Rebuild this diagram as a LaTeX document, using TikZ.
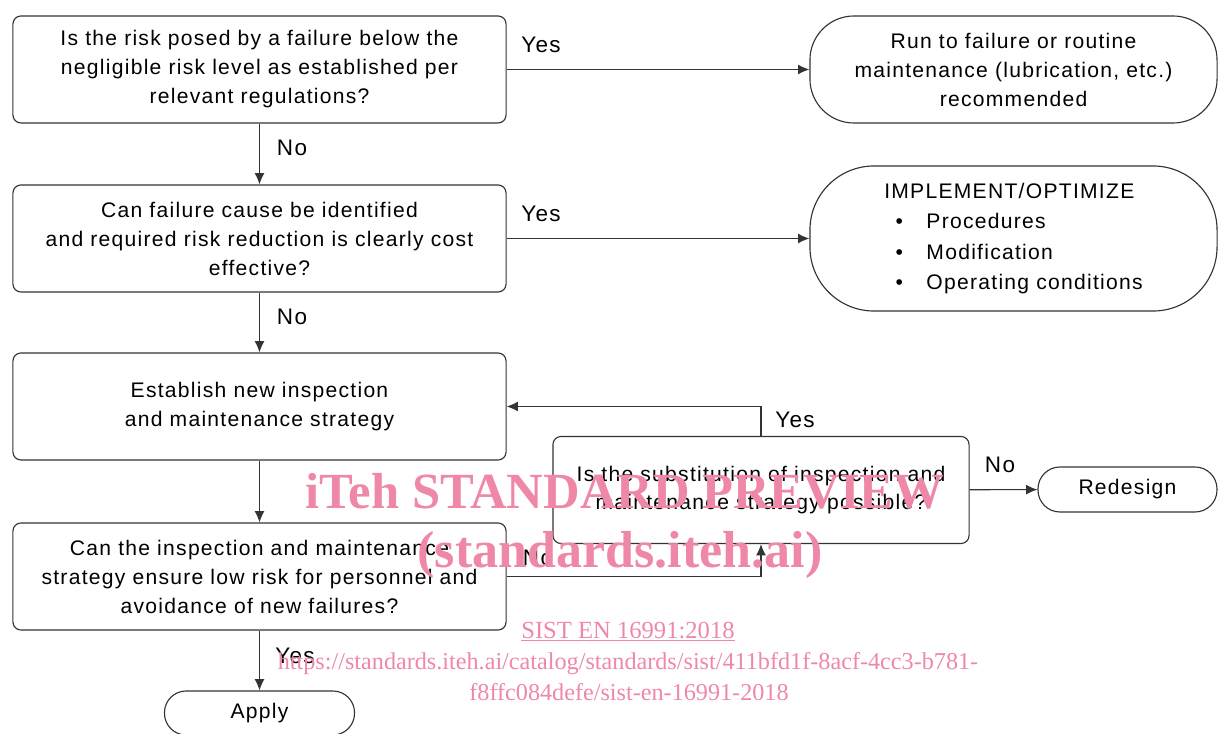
\documentclass[tikz,border=0pt]{standalone}
\usepackage{fontspec}
\setmainfont{Liberation Sans}[LetterSpace=6]
\newfontfamily\wmfont{Liberation Serif}
\usetikzlibrary{arrows.meta}
\definecolor{wmpink}{RGB}{238,136,166}
\newcommand{\lalign}{259.5}
\newcommand{\ralign}{1013.5}

\begin{document}
\begin{tikzpicture}[x=0.025cm,y=-0.025cm,
box/.style={draw=black!80, line width=0.8pt, rounded corners=0.2cm,
            minimum width=12.325cm, minimum height=2.675cm, align=center,
            inner sep=0pt, font=\fontsize{15}{20.6}\selectfont},
term/.style={draw=black!80, line width=0.8pt, align=center,
             inner sep=0pt, font=\fontsize{15}{20.6}\selectfont},
flow/.style={draw=black!80, line width=0.8pt, -{Latex[length=8pt,width=7pt]}},
lbl/.style={inner sep=0pt, font=\fontsize{16}{18}\selectfont},
wm/.style={text=wmpink, inner sep=0pt, anchor=base},
]
\useasboundingbox (0,0) rectangle (1218,734);

% left column
\node[box] (q1) at (\lalign,69.5) {Is the risk posed by a failure below the\\negligible risk level as established per\\relevant regulations?};
\node[box] (q2) at (\lalign,238.5) {Can failure cause be identified\\and required risk reduction is clearly cost\\effective?};
\node[box] (est) at (\lalign,406.5) {Establish new inspection\\and maintenance strategy};
\node[box] (q4) at (\lalign,576.5) {Can the inspection and maintenance\\strategy ensure low risk for personnel and\\avoidance of new failures?};
\node[term, minimum width=4.75cm, minimum height=1.1cm, rounded corners=0.54cm] (apply) at (\lalign,713) {Apply};

% right column
\node[term, minimum width=10.175cm, minimum height=2.675cm, rounded corners=1.1cm] (run) at (\ralign,69.5) {Run to failure or routine\\maintenance (lubrication, etc.)\\recommended};
\node[term, minimum width=10.175cm, minimum height=3.625cm, rounded corners=1.6cm, align=left,
      font=\fontsize{15}{21.5}\selectfont] (impl) at (\ralign,238.5)
  {IMPLEMENT/OPTIMIZE\\
   \hspace*{8pt}\makebox[22pt][l]{\textbullet}Procedures\\
   \hspace*{8pt}\makebox[22pt][l]{\textbullet}Modification\\
   \hspace*{8pt}\makebox[22pt][l]{\textbullet}Operating conditions};
\node[box, minimum width=10.4cm, font=\fontsize{15}{19.8}\selectfont] (sub) at (761,490) {Is the substitution of inspection and\\maintenance strategy possible?};
\node[term, minimum width=4.475cm, minimum height=1.125cm, rounded corners=0.55cm] (red) at (1127.5,489.5) {Redesign};

%% connectors
\draw[flow] (q1) -- (run);
\draw[flow] (q1) -- (q2);
\draw[flow] (q2) -- (impl);
\draw[flow] (q2) -- (est);
\draw[flow] (est) -- (q4);
\draw[flow] (q4) -- (apply);
\draw[flow] (q4.east) -| (sub.south);
\draw[flow] (sub.north) |- (est.east);
\draw[flow] (sub) -- (red);

%% labels
\node[lbl] (yes1) at (541,45) {Yes};
\node[lbl] (no1) at (292,148) {No};
\node[lbl] (yes2) at (541,214) {Yes};
\node[lbl] (no2) at (292,317) {No};
\node[lbl] (yes3) at (795,420) {Yes};
\node[lbl] (no3) at (1000,465) {No};
\node[lbl] (no4) at (538,558) {No};
\node[lbl] (yes4) at (295,656) {Yes};

%% watermark
\node[wm, font=\wmfont\bfseries\fontsize{36}{40}\selectfont] (wmA) at (625,509) {iTeh STANDARD PREVIEW};
\node[wm, font=\wmfont\bfseries\fontsize{37}{40}\selectfont] (wmB) at (620,567) {(standards.iteh.ai)};
\node[wm, font=\wmfont\fontsize{17.5}{20}\selectfont] (wmC) at (628,638) {\underline{SIST EN 16991:2018}};
\node[wm, font=\wmfont\fontsize{17.2}{20}\selectfont] (wmD) at (628,669) {https://standards.iteh.ai/catalog/standards/sist/411bfd1f-8acf-4cc3-b781-};
\node[wm, font=\wmfont\fontsize{17.2}{20}\selectfont] (wmE) at (629,700) {f8ffc084defe/sist-en-16991-2018};
\end{tikzpicture}
\end{document}
